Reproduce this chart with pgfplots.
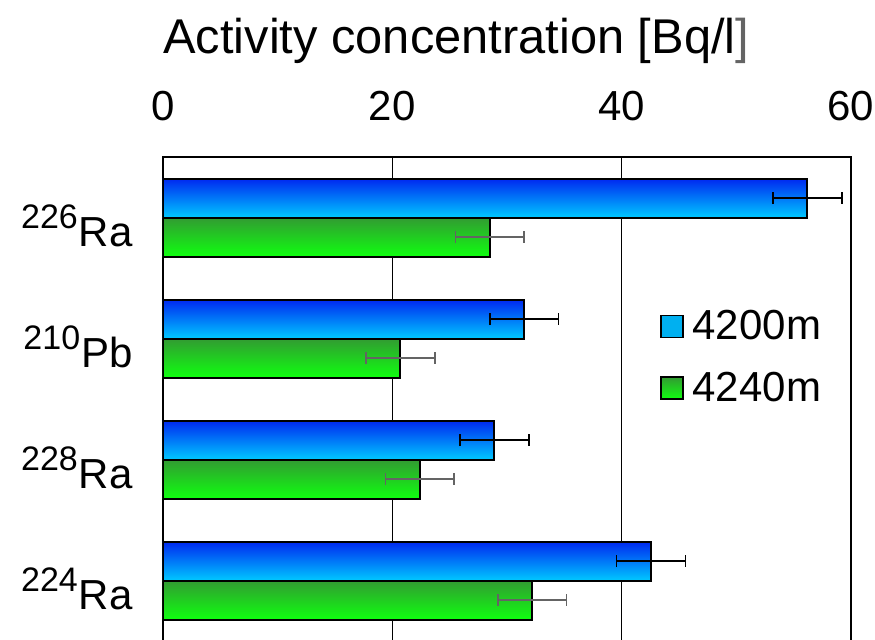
\documentclass[border=0pt]{standalone}
\usepackage{pgfplots}
\pgfplotsset{compat=1.18}
\usepackage{fontspec}
\setmainfont{Liberation Sans}

\definecolor{bluetop}{RGB}{0,40,240}
\definecolor{bluemid}{RGB}{0,140,255}
\definecolor{bluebot}{RGB}{0,200,255}
\definecolor{greentop}{RGB}{50,155,50}
\definecolor{greenmid}{RGB}{40,205,40}
\definecolor{greenbot}{RGB}{16,255,16}
\definecolor{legblue}{RGB}{0,176,240}
\definecolor{errgray}{RGB}{100,100,100}

% nuclide label: mass number as a raised, smaller prefix
\newcommand{\iso}[2]{\raisebox{9pt}{\fontsize{17}{19}\selectfont #1}\hspace{0.5pt}#2}

% each bar is its own plot so that every bar gets its own vertical gradient
\pgfplotsset{
  upper bar/.style={draw=black, line width=1pt,
    top color=bluetop, middle color=bluemid, bottom color=bluebot,
    bar shift=9.75pt,
    legend image code/.code={\draw[draw=black, top color=legblue, middle color=legblue, bottom color=legblue, line width=0.75pt] (0pt,-5.5pt) rectangle (11pt,5.5pt);},
    error bars/x dir=both, error bars/x explicit,
    error bars/error mark=|,
    error bars/error bar style={black, line width=0.75pt},
    error bars/error mark options={black, mark size=3pt, line width=0.75pt}},
  lower bar/.style={draw=black, line width=1pt,
    top color=greentop, middle color=greenmid, bottom color=greenbot,
    bar shift=-9.75pt,
    legend image code/.code={\draw[draw=black, top color=greentop, middle color=greenmid, bottom color=greenbot, line width=0.75pt] (0pt,-5.5pt) rectangle (11pt,5.5pt);},
    error bars/x dir=both, error bars/x explicit,
    error bars/error mark=|,
    error bars/error bar style={errgray, line width=0.75pt},
    error bars/error mark options={errgray, mark size=3pt, line width=0.75pt}},
}

\begin{document}
\begin{tikzpicture}
\begin{axis}[
  at={(0,0)}, anchor=south west,
  scale only axis, width=344pt, height=242pt,
  xbar, bar width=19.5pt,
  xmin=0, xmax=60, ymin=-0.5, ymax=3.5,
  xtick={0,20,40,60},
  ytick={0,1,2,3},
  % y: 3 = 226Ra, 2 = 210Pb, 1 = 228Ra, 0 = 224Ra
  yticklabels={\iso{224}{Ra},\iso{228}{Ra},\iso{210}{Pb},\iso{226}{Ra}},
  xticklabel pos=upper,
  xmajorgrids,
  grid style={black, line width=0.75pt},
  axis line style={black, line width=1pt},
  major tick length=0pt,
  /pgf/number format/assume math mode=true,
  tick label style={font=\fontsize{21}{25}\selectfont},
  xticklabel style={anchor=base, inner sep=0pt},
  xticklabel shift=18.5pt,
  yticklabel style={anchor=east, inner sep=0pt, yshift=-4pt},
  yticklabel shift=15pt,
  title={Activity concentration [Bq/l\textcolor{errgray}{]}},
  title style={at={(0,1)}, anchor=base west, inner sep=0pt, yshift=46pt,
    font=\fontsize{24.4}{28}\selectfont},
  legend style={draw=none, fill=none, at={(0.722,0.586)}, anchor=west,
    font=\fontsize{21}{25}\selectfont, row sep=12.5pt, inner sep=0pt,
    nodes={inner sep=1pt}},
  legend cell align=left,
]
% 4200m
\addplot[upper bar] coordinates {(56.2,3) +- (3.0,0)};
\addlegendentry{\hspace{3.5pt}4200m}
% 4240m
\addplot[lower bar] coordinates {(28.5,3) +- (3.0,0)};
\addlegendentry{\hspace{3.5pt}4240m}
\addplot[forget plot, upper bar] coordinates {(31.5,2) +- (3.0,0)};
\addplot[forget plot, upper bar] coordinates {(28.9,1) +- (3.0,0)};
\addplot[forget plot, upper bar] coordinates {(42.55,0) +- (3.0,0)};
\addplot[forget plot, lower bar] coordinates {(20.7,2) +- (3.0,0)};
\addplot[forget plot, lower bar] coordinates {(22.4,1) +- (3.0,0)};
\addplot[forget plot, lower bar] coordinates {(32.2,0) +- (3.0,0)};
\end{axis}
\pgfresetboundingbox
\path[use as bounding box] (-81.5pt,1pt) rectangle (356pt,320.5pt);
\end{tikzpicture}
\end{document}
